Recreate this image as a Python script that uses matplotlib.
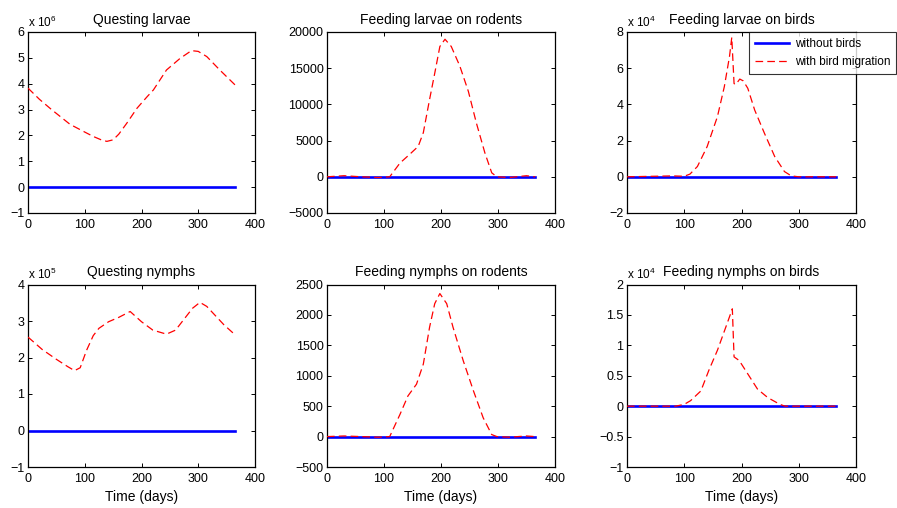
import matplotlib
matplotlib.use("Agg")
import matplotlib.pyplot as plt
from matplotlib.ticker import FuncFormatter

plt.rcParams['font.family'] = ['Liberation Sans', 'DejaVu Sans']
plt.rcParams['mathtext.default'] = 'regular'
plt.rcParams['lines.scale_dashes'] = False

# time span of the simulation (days)
t_span = [0, 365]

# questing larvae, x 10^6
ql_t = [0, 20, 42, 74, 100, 115, 130, 139, 150, 160, 174, 192, 210, 221, 244, 268, 288, 300, 315, 338, 365]
ql_y = [3.83, 3.4, 2.99, 2.43, 2.13, 1.96, 1.82, 1.77, 1.83, 2.05, 2.47, 3.05, 3.5, 3.76, 4.53, 4.98, 5.28, 5.25, 5.05, 4.53, 3.95]

# feeding larvae on rodents
flr_t = [0, 30, 60, 90, 110, 128, 145, 160, 169, 180, 189, 198, 207, 218, 233, 248, 262, 277, 289, 298, 320, 350, 365]
flr_y = [0, 150, 0, -100, 0, 1900, 3100, 4200, 6100, 10700, 14300, 18000, 19000, 18000, 15300, 11800, 7450, 3300, 550, 0, -100, 150, 0]

# feeding larvae on birds, x 10^4
flb_t = [0, 80, 100, 110, 123, 140, 158, 170, 179, 183, 187, 190, 197, 203, 211, 223, 240, 258, 275, 287, 300, 365]
flb_y = [0, 0.05, 0.03, 0.15, 0.57, 1.67, 3.33, 4.98, 6.64, 7.7, 5.15, 5.1, 5.4, 5.3, 4.89, 3.69, 2.41, 1.12, 0.29, 0.05, 0, 0]

# questing nymphs, x 10^5
qn_t = [0, 25, 50, 70, 82, 92, 103, 115, 125, 142, 160, 180, 200, 220, 244, 260, 275, 290, 303, 315, 330, 345, 365]
qn_y = [2.56, 2.22, 1.95, 1.75, 1.64, 1.72, 2.19, 2.6, 2.8, 2.98, 3.1, 3.26, 2.98, 2.75, 2.64, 2.75, 3.05, 3.35, 3.51, 3.4, 3.15, 2.9, 2.62]

# feeding nymphs on rodents
fnr_t = [0, 30, 60, 90, 110, 128, 142, 157, 169, 180, 189, 198, 210, 221, 239, 257, 274, 289, 298, 320, 350, 365]
fnr_y = [0, 10, 0, -10, 0, 364, 668, 861, 1192, 1800, 2185, 2351, 2185, 1800, 1247, 750, 309, 33, 0, -10, 10, 0]

# feeding nymphs on birds, x 10^4
fnb_t = [0, 85, 100, 111, 129, 143, 158, 173, 184, 187, 196, 211, 228, 246, 267, 276, 365]
fnb_y = [0, 0, 0.03, 0.09, 0.25, 0.59, 0.92, 1.31, 1.6, 0.81, 0.75, 0.53, 0.28, 0.14, 0.03, 0, 0]

titles = ['Questing larvae', 'Feeding larvae on rodents', 'Feeding larvae on birds',
          'Questing nymphs', 'Feeding nymphs on rodents', 'Feeding nymphs on birds']
exponents = [6, None, 4, 5, None, 4]
ylims = [(-1, 6, 1), (-5000, 20000, 5000), (-2, 8, 2),
         (-1, 4, 1), (-500, 2500, 500), (-1, 2, 0.5)]
series = [(ql_t, ql_y), (flr_t, flr_y), (flb_t, flb_y),
          (qn_t, qn_y), (fnr_t, fnr_y), (fnb_t, fnb_y)]


def tick_fmt(v, pos):
    return ('%g' % v).replace('-', '\u2212')


W, H = 897, 508
fig = plt.figure(figsize=(W / 100, H / 100), dpi=100)

lefts = [28, 327, 627]
widths = [227, 228, 229]
tops = [32, 284.5]
heights = [181, 182.5]

axes = []
for i in range(6):
    r, c = divmod(i, 3)
    rect = [lefts[c] / W, 1 - (tops[r] + heights[r]) / H, widths[c] / W, heights[r] / H]
    ax = fig.add_axes(rect)
    axes.append(ax)
    t, y = series[i]
    ax.plot(t_span, [0, 0], color=(0, 0, 1), lw=1.9, label='without birds', zorder=2)
    ax.plot(t, y, color=(1, 0, 0), lw=0.9, dashes=(5.5, 3), label='with bird migration', zorder=3)
    lo, hi, step = ylims[i]
    ax.set_xlim(0, 400)
    ax.set_ylim(lo, hi)
    n = int(round((hi - lo) / step))
    ax.set_yticks([lo + k * step for k in range(n + 1)])
    ax.set_xticks([0, 100, 200, 300, 400])
    ax.yaxis.set_major_formatter(FuncFormatter(tick_fmt))
    ax.tick_params(direction='in', length=3, width=0.7, top=True, right=True,
                   labelsize=9)
    ax.tick_params(axis='x', pad=4)
    ax.tick_params(axis='y', pad=2.5)
    for s in ax.spines.values():
        s.set_linewidth(0.9)
    ax.set_title(titles[i], fontsize=10, pad=6)
    if exponents[i] is not None:
        ax.text(0, 1.012, r'x 10$^{%d}$' % exponents[i], transform=ax.transAxes,
                fontsize=8.5, ha='left', va='bottom')
    if r == 1:
        ax.set_xlabel('Time (days)', fontsize=10, labelpad=4)

leg = axes[2].legend(loc='upper right', bbox_to_anchor=(896 / W, 1 - 32 / H),
                     bbox_transform=fig.transFigure, fontsize=8.5, handlelength=2.9,
                     frameon=True, fancybox=False, borderpad=0.5, labelspacing=0.5,
                     handletextpad=0.45, borderaxespad=0)
leg.get_frame().set_edgecolor('black')
leg.get_frame().set_linewidth(0.8)

fig.savefig('out.png', dpi=100)
